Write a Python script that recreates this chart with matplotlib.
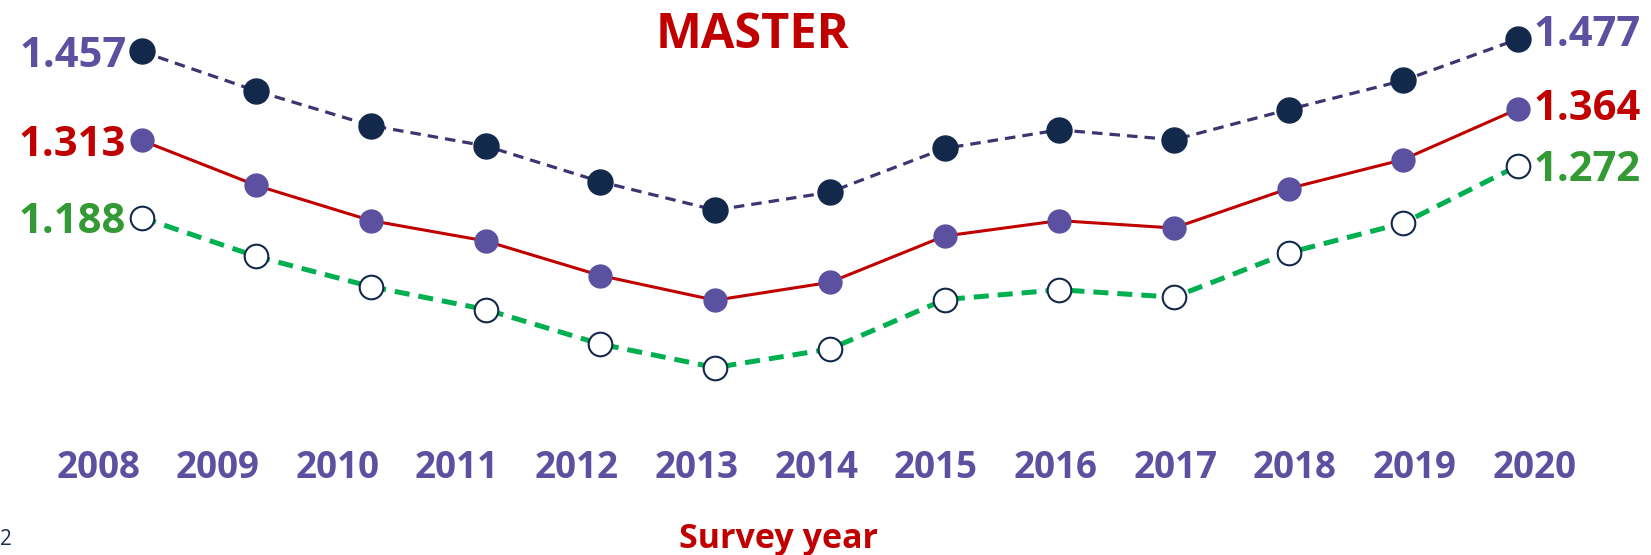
import numpy as np
import matplotlib
matplotlib.use("Agg")
from matplotlib import pyplot as plt

# Survey years and the three series
years = list(range(2008, 2021))
upper = [1.457, 1.393, 1.337, 1.304, 1.246, 1.200, 1.229, 1.300, 1.330, 1.314, 1.363, 1.410, 1.477]
middle = [1.313, 1.240, 1.183, 1.150, 1.094, 1.054, 1.083, 1.158, 1.183, 1.171, 1.235, 1.282, 1.364]
lower = [1.188, 1.125, 1.076, 1.039, 0.983, 0.945, 0.975, 1.055, 1.071, 1.059, 1.131, 1.179, 1.272]
year_labels = [str(y) for y in years]

NAVY = "#13294B"
DASH_NAVY = "#3D3470"
PURPLE = "#5B51A0"
RED = "#C00000"
GREEN_LINE = "#00B050"
GREEN_TXT = "#339A35"

plt.rcParams['font.family'] = ['Open Sans', 'DejaVu Sans']

fig = plt.figure(figsize=(16.51, 5.55), dpi=100)
ax = fig.add_axes([0, 0, 1, 1])
ax.set_xlim(2006.7655, 2021.159)
ax.set_ylim(0.6413, 1.5404)
ax.axis('off')

# upper series: navy dots, dashed line
ax.plot(years, upper, color=DASH_NAVY, lw=2.3, dashes=(3.3, 2.2), zorder=2)
ax.plot(years, upper, 'o', color=NAVY, ms=18, zorder=3)

# middle series: purple dots, red line
ax.plot(years, middle, color=RED, lw=2.2, zorder=2)
ax.plot(years, middle, 'o', color=PURPLE, ms=16.5, zorder=3)

# lower series: hollow dots, thick green dashes
ax.plot(years, lower, color=GREEN_LINE, lw=3.6, dashes=(3.0, 1.8), zorder=2)
ax.plot(years, lower, 'o', mfc='white', mec=NAVY, mew=1.5, ms=17, zorder=3)

# end value labels
for series, col in [(upper, PURPLE), (middle, RED), (lower, GREEN_TXT)]:
    ax.annotate(f"{series[0]:.3f}", (years[0], series[0]), xytext=(-11, -11),
                textcoords='offset points', ha='right', va='baseline',
                fontsize=30, fontweight='bold', color=col)
for series, col, dy in [(upper, PURPLE, -5), (middle, RED, -8), (lower, GREEN_TXT, -11)]:
    ax.annotate(f"{series[-1]:.3f}", (years[-1], series[-1]), xytext=(11, dy),
                textcoords='offset points', ha='left', va='baseline',
                fontsize=30, fontweight='bold', color=col)

# year labels sit on their own slightly wider spacing
label_x = 2008 + np.linspace(-0.38, 12.14, len(year_labels))
for x, lab in zip(label_x, year_labels):
    ax.text(x, 1 - 478 / 555, lab, transform=ax.get_xaxis_transform(),
            ha='center', va='baseline', fontsize=26.5, fontweight='bold', color=PURPLE)

fig.text(752 / 1651, 1 - 48 / 555, "MASTER", ha='center', va='baseline',
         fontsize=35, fontweight='bold', color=RED)
fig.text(778 / 1651, 1 - 548 / 555, "Survey year", ha='center', va='baseline',
         fontsize=24.5, fontweight='bold', color=RED)
fig.text(0.0, 1 - 545 / 555, "2", ha='left', va='baseline', fontsize=15, color="#1F3050")

fig.savefig("out.png", dpi=100, facecolor='white')
